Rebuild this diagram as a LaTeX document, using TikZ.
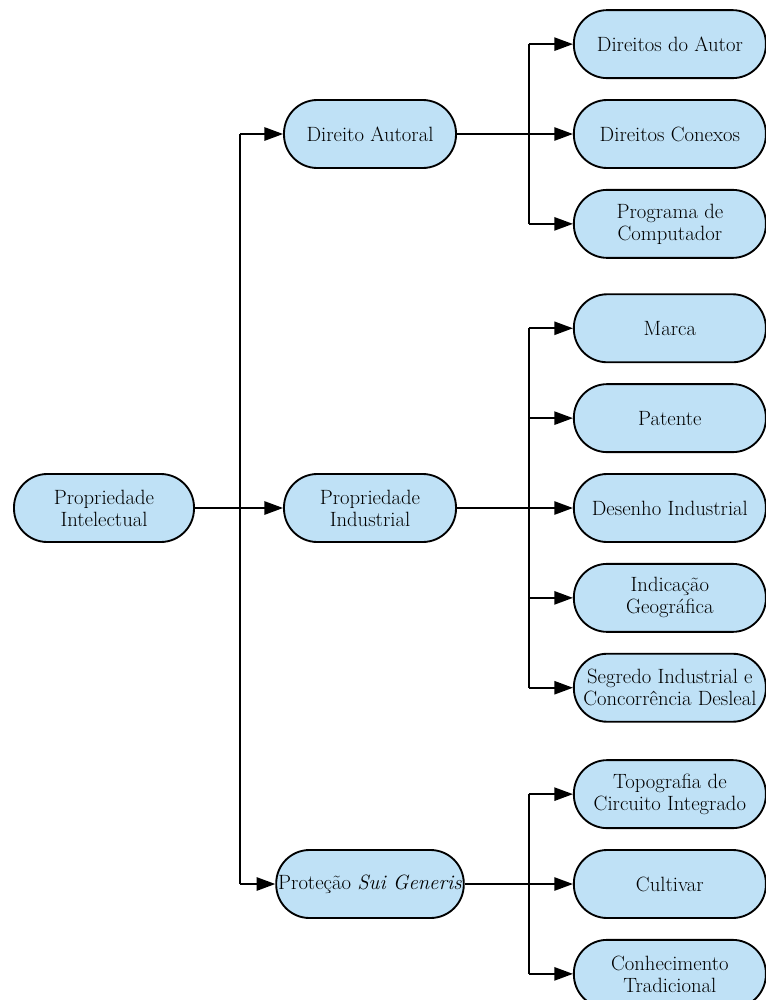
\documentclass[tikz,border=0pt]{standalone}
\usetikzlibrary{arrows.meta,positioning}
\definecolor{pillfill}{HTML}{BFE1F6}

\begin{document}
\begin{tikzpicture}[
  x=0.75pt, y=-0.75pt,
  pill/.style={draw, line width=1.4pt, fill=pillfill, rounded corners=25pt, minimum height=51pt, minimum width=#1, align=center, inner xsep=1.5pt, inner ysep=2pt, font=\fontsize{15.5}{16.5}\selectfont},
  arrow/.style={-{Triangle[length=14pt, width=10pt]}, line width=1.3pt},
  link/.style={line width=1.3pt}
]
  \useasboundingbox (0,0) rectangle (766,1000);

  % Root
  \node[pill=135pt] (pi) at (104,508) {Propriedade\\Intelectual};

  % Middle level
  \node[pill=129pt] (da) at (370,134) {Direito Autoral};
  \node[pill=129pt] (pind) at (370,508) {Propriedade\\Industrial};
  \node[pill=129pt] (psg) at (370,884) {Proteção \textit{Sui Generis}};

  % Leaves of Direito Autoral
  \node[pill=144pt, right=87pt of da] (dcon) {Direitos Conexos};
  \node[pill=144pt, above=15pt of dcon] (daut) {Direitos do Autor};
  \node[pill=144pt, below=15pt of dcon] (prog) {Programa de\\Computador};

  % Leaves of Propriedade Industrial
  \node[pill=144pt, right=87pt of pind] (des) {Desenho Industrial};
  \node[pill=144pt, above=15pt of des] (pat) {Patente};
  \node[pill=144pt, above=15pt of pat] (marca) {Marca};
  \node[pill=144pt, below=15pt of des] (ig) {Indicação\\Geográfica};
  \node[pill=144pt, below=15pt of ig] (seg) {Segredo Industrial e\\Concorrência Desleal};

  % Leaves of Protecao Sui Generis
  \node[pill=144pt] (cult) at (des |- psg) {Cultivar};
  \node[pill=144pt, above=15pt of cult] (topo) {Topografia de\\Circuito Integrado};
  \node[pill=144pt, below=15pt of cult] (conh) {Conhecimento\\Tradicional};

  % Junction points
  \coordinate (trunk) at ([xshift=34pt]pi.east);
  \coordinate (jda) at ([xshift=54pt]da.east);
  \coordinate (jpind) at ([xshift=54pt]pind.east);
  \coordinate (jpsg) at (jpind |- psg);

  % Root to middle level
  \draw[arrow] (pi) -- (pind);
  \draw[link] (trunk |- da) -- (trunk |- psg);
  \draw[arrow] (trunk |- da) -- (da);
  \draw[arrow] (trunk |- psg) -- (psg);

  % Direito Autoral
  \draw[arrow] (da) -- (dcon);
  \draw[link] (jda |- daut) -- (jda |- prog);
  \draw[arrow] (jda |- daut) -- (daut);
  \draw[arrow] (jda |- prog) -- (prog);

  % Propriedade Industrial
  \draw[arrow] (pind) -- (des);
  \draw[link] (jpind |- marca) -- (jpind |- seg);
  \foreach \leaf in {marca,pat,ig,seg}
    \draw[arrow] (jpind |- \leaf) -- (\leaf);

  % Protecao Sui Generis
  \draw[arrow] (psg) -- (cult);
  \draw[link] (jpsg |- topo) -- (jpsg |- conh);
  \draw[arrow] (jpsg |- topo) -- (topo);
  \draw[arrow] (jpsg |- conh) -- (conh);
\end{tikzpicture}
\end{document}
